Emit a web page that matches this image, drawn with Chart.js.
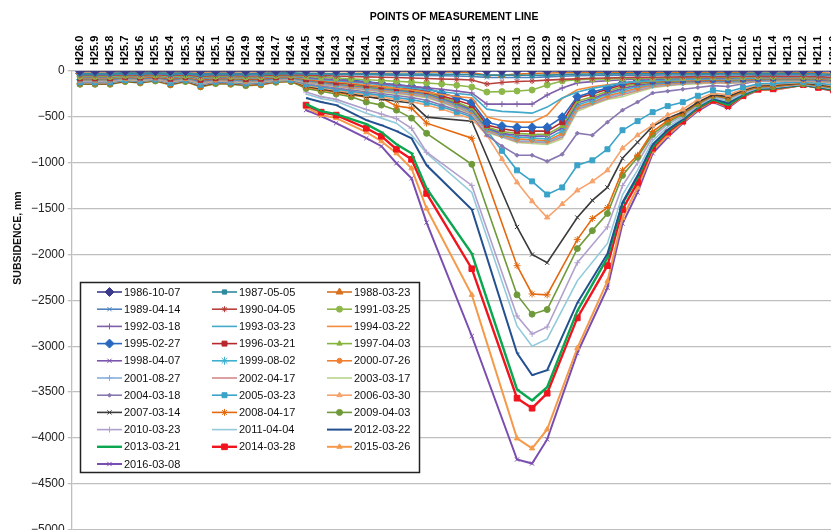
<!DOCTYPE html>
<html>
<head>
<meta charset="utf-8">
<script src="https://cdn.jsdelivr.net/npm/chart.js@4.4.1/dist/chart.umd.min.js"></script>
<style>
  html, body { margin: 0; padding: 0; background: #fff; overflow: hidden; }
  #wrap { position: relative; width: 842px; height: 540px; }
</style>
</head>
<body>
<div id="wrap"><canvas id="subsidenceChart"></canvas></div>
<script>
  const n = null;

  // measurement points along the line (top axis)
  const pointNames = ['H26.0','H25.9','H25.8','H25.7','H25.6','H25.5','H25.4','H25.3','H25.2','H25.1','H25.0',
    'H24.9','H24.8','H24.7','H24.6','H24.5','H24.4','H24.3','H24.2','H24.1','H24.0',
    'H23.9','H23.8','H23.7','H23.6','H23.5','H23.4','H23.3','H23.2','H23.1','H23.0',
    'H22.9','H22.8','H22.7','H22.6','H22.5','H22.4','H22.3','H22.2','H22.1','H22.0',
    'H21.9','H21.8','H21.7','H21.6','H21.5','H21.4','H21.3','H21.2','H21.1','H21.0'];

  const surveyDates = ['1986-10-07','1987-05-05','1988-03-23','1989-04-14','1990-04-05','1991-03-25',
    '1992-03-18','1993-03-23','1994-03-22','1995-02-27','1996-03-21','1997-04-03','1998-04-07',
    '1999-08-02','2000-07-26','2001-08-27','2002-04-17','2003-03-17','2004-03-18','2005-03-23',
    '2006-03-30','2007-03-14','2008-04-17','2009-04-03','2010-03-23','2011-04-04','2012-03-22',
    '2013-03-21','2014-03-28','2015-03-26','2016-03-08'];

  const yTicks = [0, -500, -1000, -1500, -2000, -2500, -3000, -3500, -4000, -4500, -5000];

  // subsidence, mm  (H26.0 ... H24.6 | H24.5 ... H22.5 | H22.4 ... H21.0)
  const s1986 = [0,0,0,0,0,0,0,0,0,0,0,0,0,0,0,
    0,0,0,0,0,0,0,0,0,0,0,0,0,0,0,0,0,0,0,0,0,
    0,0,0,0,0,0,0,0,0,0,0,0,0,0,0];
  const s1987 = [-30,-30,-30,-24,-27,-23,-32,-24,-36,-29,-30,-33,-32,-26,-24,
    -25,-28,-30,-30,-32,-32,-33,-34,-35,-36,-36,-38,-45,-46,-47,-47,-45,-40,-36,-34,-32,
    -30,-30,-30,-30,-30,-30,-28,-30,-28,-26,-26,n,-28,-30,-38];
  const s1988 = [-8,-8,-8,-6,-7,-6,-8,-6,-10,-8,-8,-9,-8,-7,-6,
    -6,-6,-6,-7,-7,-7,-8,-8,-10,-10,-12,-20,-44,-48,-35,-28,-22,-20,-18,-16,-16,
    -15,-15,-15,-15,-15,-15,-14,-15,-14,-12,-12,n,-18,-20,-25];
  const s1989 = [-40,-40,-40,-32,-36,-30,-42,-32,-48,-38,-40,-44,-42,-34,-32,
    -34,-36,-38,-40,-42,-44,-46,-48,-50,-52,-55,-60,-70,-72,-72,-72,-65,-58,-52,-50,-48,
    -46,-45,-45,-44,-44,-43,-42,-44,-42,-40,-40,n,-42,-45,-52];
  const s1990 = [-50,-50,-50,-40,-45,-38,-53,-40,-60,-48,-50,-55,-53,-43,-40,
    -45,-50,-55,-60,-64,-68,-72,-76,-82,-88,-92,-98,-142,-125,-115,-110,-100,-92,-86,-80,-76,
    -72,-70,-68,-66,-64,-62,-60,-62,-58,-56,-56,n,-58,-62,-72];
  const s1991 = [-60,-60,-60,-48,-54,-45,-63,-48,-72,-57,-60,-66,-63,-51,-48,
    -58,-68,-76,-86,-96,-104,-112,-122,-132,-142,-156,-175,-230,-225,-219,-208,-153,-109,-96,-90,-86,
    -82,-80,-76,-74,-72,-70,-66,-68,-64,-62,-60,n,-62,-66,-76];
  const s1992 = [-65,-65,-65,-52,-59,-49,-68,-52,-78,-62,-65,-72,-68,-55,-52,
    -70,-84,-96,-110,-124,-138,-152,-168,-184,-200,-220,-240,-361,-361,-361,-361,-262,-186,-130,-116,-106,
    -96,-90,-86,-82,-80,-76,-74,-76,-72,-68,-66,n,-66,-70,-80];
  const s1993 = [-70,-70,-70,-56,-63,-53,-74,-56,-84,-67,-70,-77,-74,-60,-56,
    -80,-94,-106,-120,-134,-150,-168,-186,-206,-226,-246,-262,-416,-440,-449,-460,-394,-295,-230,-190,-160,
    -130,-116,-106,-100,-96,-90,-86,-88,-82,-76,-72,n,-72,-76,-86];
  const s1994 = [-75,-75,-75,-60,-68,-56,-79,-60,-90,-71,-75,-83,-79,-64,-60,
    -88,-104,-118,-134,-150,-168,-188,-208,-232,-256,-278,-295,-503,-540,-558,-558,-481,-300,-205,-172,-150,
    -132,-120,-110,-104,-100,-94,-90,-92,-86,-80,-76,n,-76,-80,-90];
  const s1995 = [-25,-25,-25,-20,-23,-19,-26,-20,-30,-24,-25,-28,-26,-21,-20,
    -40,-60,-80,-100,-118,-134,-150,-168,-190,-240,-290,-339,-560,-600,-613,-613,-613,-503,-280,-230,-186,
    -131,-110,-100,-94,-90,-86,-82,-84,-78,-72,-68,n,-68,-72,-82];
  const s1996 = [-80,-80,-80,-64,-72,-60,-84,-64,-96,-76,-80,-88,-84,-68,-64,
    -90,-108,-124,-140,-156,-170,-186,-200,-220,-270,-320,-372,-590,-630,-656,-656,-656,-558,-295,-252,-200,
    -150,-125,-112,-106,-100,-96,-92,-95,-88,-82,-78,n,-78,-82,-92];
  const s1997 = [-85,-85,-85,-68,-77,-64,-89,-68,-102,-81,-85,-94,-89,-72,-68,
    -95,-115,-132,-150,-166,-180,-196,-212,-232,-285,-340,-405,-610,-660,-680,-690,-690,-600,-330,-280,-220,
    -170,-140,-122,-114,-108,-102,-98,-100,-94,-88,-84,n,-84,-88,-98];
  const s1998 = [-90,-90,-90,-72,-81,-68,-95,-72,-108,-86,-90,-99,-95,-77,-72,
    -100,-120,-138,-156,-172,-188,-204,-220,-242,-295,-355,-420,-620,-680,-700,-710,-710,-620,-350,-300,-240,
    -190,-155,-132,-122,-114,-108,-104,-106,-100,-94,-90,n,-90,-94,-104];
  const s1999 = [-95,-95,-95,-76,-86,-71,-100,-76,-114,-90,-95,-105,-100,-81,-76,
    -105,-126,-144,-162,-178,-196,-212,-230,-252,-305,-365,-430,-630,-690,-720,-730,-740,-650,-370,-320,-250,
    -210,-170,-142,-130,-120,-114,-110,-112,-106,-100,-96,n,-96,-100,-110];
  const s2000 = [-100,-100,-100,-80,-90,-75,-105,-80,-120,-95,-100,-110,-105,-85,-80,
    -110,-132,-150,-168,-186,-204,-220,-238,-262,-315,-375,-440,-640,-700,-740,-750,-760,-680,-390,-340,-270,
    -230,-185,-152,-138,-128,-120,-116,-118,-112,-106,-100,n,-100,-106,-116];
  const s2001 = [-105,-105,-105,-84,-95,-79,-110,-84,-126,-100,-105,-116,-110,-89,-84,
    -115,-138,-156,-176,-194,-212,-230,-248,-272,-325,-385,-450,-650,-710,-760,-765,-775,-700,-410,-350,-285,
    -245,-200,-162,-146,-134,-126,-120,-124,-118,-110,-104,n,-104,-110,-122];
  const s2002 = [-110,-110,-110,-88,-99,-83,-116,-88,-132,-105,-110,-121,-116,-94,-88,
    -120,-144,-164,-184,-202,-220,-238,-258,-282,-335,-395,-460,-660,-715,-770,-775,-785,-720,-420,-360,-300,
    -260,-215,-172,-154,-140,-132,-126,-130,-122,-114,-108,n,-108,-114,-128];
  const s2003 = [-115,-115,-115,-92,-104,-86,-121,-92,-138,-109,-115,-127,-121,-98,-92,
    -125,-150,-170,-192,-210,-228,-248,-268,-292,-345,-405,-470,-670,-720,-780,-790,-800,-740,-440,-370,-310,
    -280,-230,-182,-162,-148,-138,-132,-136,-128,-15,-112,n,-112,-118,-132];
  const s2004 = [-120,-120,-120,-96,-108,-90,-126,-96,-144,-114,-120,-132,-126,-102,-96,
    -135,-162,-184,-206,-226,-246,-268,-290,-320,-370,-425,-480,-700,-820,-919,-919,-985,-908,-678,-700,-558,
    -427,-339,-241,-220,-200,-180,-160,-170,-140,-110,-108,n,-105,-112,-130];
  const s2005 = [-125,-125,-125,-100,-113,-94,-131,-100,-150,-119,-125,-138,-131,-106,-100,
    -145,-175,-198,-222,-244,-266,-290,-312,-345,-390,-445,-500,-650,-870,-1083,-1203,-1346,-1269,-1028,-974,-853,
    -646,-547,-449,-383,-340,-270,-210,-230,-180,-140,-135,n,-120,-135,-150];
  const s2006 = [-130,-130,-130,-104,-117,-98,-137,-104,-156,-124,-130,-143,-137,-111,-104,
    -155,-185,-210,-236,-260,-284,-310,-334,-370,-415,-470,-520,-700,-960,-1214,-1420,-1597,-1450,-1302,-1203,-1083,
    -842,-700,-591,-480,-420,-310,-240,-260,-200,-150,-145,n,-125,-140,-160];
  const s2007 = [-135,-135,-135,-108,-122,-101,-142,-108,-162,-128,-135,-149,-142,-115,-108,
    -165,-195,-222,-250,-278,-305,-330,-350,-503,n,n,-547,n,n,-1700,-2000,-2090,n,-1597,-1411,-1269,
    -952,-777,-602,-514,-448,-340,-260,-280,-210,-160,-155,n,-130,-150,-170];
  const s2008 = [-140,-140,-140,-112,-126,-105,-147,-112,-168,-133,-140,-154,-147,-119,-112,
    -175,-205,-232,-262,-284,-295,-383,-405,-569,n,n,-733,n,n,-2122,-2430,-2440,n,-1838,-1608,-1488,
    -1083,-919,-660,-540,-460,-350,-265,-290,-220,-170,-165,n,-135,-155,-178];
  const s2009 = [-145,-145,-145,-116,-131,-109,-152,-116,-174,-138,-145,-160,-152,-123,-116,
    -190,-222,-252,-282,-339,-372,-427,-514,-680,n,n,-1017,n,n,-2440,-2650,-2600,n,-1936,-1740,-1553,
    -1138,-940,-690,-560,-470,-360,-270,-300,-225,-175,-170,n,-140,-160,-185];
  const s2010 = [n,n,n,n,n,n,n,n,n,n,n,n,n,n,n,
    -230,-280,-310,n,-420,-470,-520,-624,-886,n,n,-1247,n,n,-2670,-2866,-2790,n,-2090,n,-1700,
    -1250,-1000,-720,-580,-490,-372,-280,-310,-235,-180,-175,n,-145,-165,-190];
  const s2011 = [n,n,n,n,n,n,n,n,n,n,n,n,n,n,n,
    -252,-300,-330,n,-460,-514,-569,-700,-897,n,n,-1324,n,n,-2779,-3000,-2920,n,-2287,n,-1880,
    -1350,-1080,-760,-610,-510,-380,-290,-330,-245,-185,-180,n,-145,-170,-195];
  const s2012 = [n,n,n,n,n,n,n,n,n,n,n,n,n,n,n,
    -295,-339,-372,n,-536,-591,-656,-733,-1028,n,n,-1510,n,n,-3074,-3315,-3260,n,-2527,n,-1991,
    -1433,-1140,-800,-640,-525,-390,-300,-350,-255,-190,-185,n,-148,-175,-200];
  const s2013 = [n,n,n,n,n,n,n,n,n,n,n,n,n,n,n,
    -361,-438,-470,n,-580,-667,-799,-897,-1280,n,n,-1991,n,n,-3470,-3590,-3446,n,-2615,n,-2035,
    -1444,-1160,-820,-650,-535,-400,-310,-370,-265,-195,-190,n,-150,-178,-205];
  const s2014 = [n,n,n,n,n,n,n,n,n,n,n,n,n,n,n,
    -372,-449,-481,n,-624,-711,-853,-963,-1335,n,n,-2155,n,n,-3566,-3675,-3512,n,-2691,n,-2122,
    -1510,-1214,-842,-667,-547,-405,-320,-380,-270,-200,-195,n,-150,-180,-210];
  const s2015 = [n,n,n,n,n,n,n,n,n,n,n,n,n,n,n,
    -394,-481,-514,n,-667,-766,-897,-1061,-1499,n,n,-2440,n,n,-4004,-4113,-3906,n,-3019,n,-2290,
    -1600,-1270,-870,-700,-560,-420,-330,-390,-280,-205,-205,n,-152,-182,-215];
  const s2016 = [n,n,n,n,n,n,n,n,n,n,n,n,n,n,n,
    -427,-492,-569,n,-733,-820,-1006,-1170,-1652,n,n,-2888,n,n,-4234,-4278,-4015,n,-3074,n,-2363,
    -1663,-1324,-897,-722,-569,-437,-339,-405,-284,-208,-208,n,-153,-186,-219];

  const seriesValues = [s1986, s1987, s1988, s1989, s1990, s1991, s1992, s1993, s1994, s1995, s1996,
    s1997, s1998, s1999, s2000, s2001, s2002, s2003, s2004, s2005, s2006, s2007, s2008, s2009,
    s2010, s2011, s2012, s2013, s2014, s2015, s2016];

  // colour, marker, marker radius, line width (excel-like defaults)
  const looks = [
    ['#3B3A8C', 'rectRot', 4.5, 1.6],
    ['#2F8A9E', 'rect', 3, 1.6],
    ['#D8701E', 'triangle', 4, 1.6],
    ['#4F81BD', 'crossRot', 3, 1.6],
    ['#B8403C', 'star', 3, 1.6],
    ['#8DB849', 'circle', 3, 1.6],
    ['#7F5FA8', 'cross', 3, 1.6],
    ['#41A9C9', 'circle', 0, 1.6],
    ['#F38B3C', 'circle', 0, 1.6],
    ['#2868C0', 'rectRot', 4.5, 1.6],
    ['#B5282E', 'rect', 3.5, 1.6],
    ['#86B33A', 'triangle', 3, 1.6],
    ['#7B55AE', 'crossRot', 3, 1.6],
    ['#3FB0CF', 'star', 4, 1.6],
    ['#F08030', 'circle', 2.5, 1.6],
    ['#86AEDC', 'cross', 3, 1.6],
    ['#D48A88', 'circle', 0, 1.6],
    ['#B9D48C', 'circle', 0, 1.6],
    ['#8877B0', 'rectRot', 2, 1.6],
    ['#3AA3C8', 'rect', 3.5, 1.6],
    ['#F7A26A', 'triangle', 3, 1.6],
    ['#3A3A3A', 'crossRot', 3, 1.6],
    ['#E3680E', 'star', 3.5, 1.6],
    ['#6F9A3A', 'circle', 3, 1.6],
    ['#B0A0CC', 'cross', 3, 1.6],
    ['#92CADC', 'circle', 0, 1.6],
    ['#23508F', 'dash', 2.5, 2],
    ['#0AA650', 'dash', 2.5, 2.4],
    ['#F0141E', 'rect', 4, 2.4],
    ['#F59A4A', 'triangle', 3, 2],
    ['#7A4DB0', 'crossRot', 3, 2]
  ];

  const FONT = "'Liberation Sans', Arial, sans-serif";
  Chart.defaults.font.family = FONT;

  const datasets = seriesValues.map((vals, k) => ({
    label: surveyDates[k],
    data: vals.map((v, i) => ({ x: i, y: v })),
    borderColor: looks[k][0],
    backgroundColor: looks[k][0],
    pointBackgroundColor: looks[k][0],
    pointBorderColor: looks[k][0],
    pointStyle: looks[k][1],
    pointRadius: looks[k][2],
    pointBorderWidth: 1,
    borderWidth: looks[k][3],
    spanGaps: true,
    tension: 0
  }));

  // y axis caption, sits higher than the plot centre like in the original
  const sideTitle = {
    id: 'sideTitle',
    afterDraw(chart) {
      const ctx = chart.ctx;
      ctx.save();
      ctx.translate(18, 238);
      ctx.rotate(-Math.PI / 2);
      ctx.font = 'bold 10.5px ' + FONT;
      ctx.fillStyle = '#111';
      ctx.textAlign = 'center';
      ctx.textBaseline = 'middle';
      ctx.fillText('SUBSIDENCE, mm', 0, 0);
      ctx.restore();
    }
  };

  // boxed legend inside the plot, 3 columns
  const boxLegend = {
    id: 'boxLegend',
    afterDraw(chart) {
      const ctx = chart.ctx;
      const colX = [97, 212, 327];
      ctx.save();
      ctx.fillStyle = '#fff';
      ctx.fillRect(80, 282, 340, 191);
      ctx.strokeStyle = '#222';
      ctx.lineWidth = 1.5;
      ctx.strokeRect(80.5, 282.5, 339, 190);
      chart.data.datasets.forEach((ds, k) => {
        const x0 = colX[k % 3];
        const y = 292 + Math.floor(k / 3) * 17.2;
        ctx.strokeStyle = ds.borderColor;
        ctx.lineWidth = ds.borderWidth;
        ctx.beginPath();
        ctx.moveTo(x0, y);
        ctx.lineTo(x0 + 25, y);
        ctx.stroke();
        if (ds.pointRadius > 0 && Chart.helpers && Chart.helpers.drawPoint) {
          ctx.fillStyle = ds.pointBackgroundColor;
          ctx.strokeStyle = ds.pointBorderColor;
          ctx.lineWidth = 1;
          Chart.helpers.drawPoint(ctx, { pointStyle: ds.pointStyle, radius: ds.pointRadius, rotation: 0, borderWidth: 1 }, x0 + 12.5, y);
        }
        ctx.fillStyle = '#111';
        ctx.font = '11px ' + FONT;
        ctx.textAlign = 'left';
        ctx.textBaseline = 'middle';
        ctx.fillText(ds.label, x0 + 27, y + 0.5);
      });
      ctx.restore();
    }
  };

  const chartEl = document.getElementById('subsidenceChart');
  new Chart(chartEl, {
    type: 'line',
    data: { datasets: datasets },
    options: {
      responsive: true,
      maintainAspectRatio: false,
      animation: false,
      layout: { padding: { left: 28, top: 11, right: 0, bottom: 0 } },
      plugins: {
        legend: { display: false },
        tooltip: { enabled: false }
      },
      scales: {
        x: {
          type: 'linear',
          position: 'top',
          min: -0.55,
          max: 50.2,
          grid: { display: false, drawTicks: false },
          border: { display: true, color: '#BFBFBF', width: 1.3 },
          ticks: {
            stepSize: 1,
            includeBounds: false,
            autoSkip: false,
            minRotation: 90,
            maxRotation: 90,
            padding: 6,
            labelOffset: 13.2,   // top + rotated labels are pushed left one line height
            color: '#000',
            font: { size: 11, weight: 'bold' },
            callback: (v) => Number.isInteger(v) ? pointNames[v] : ''
          },
          title: {
            display: true,
            text: 'POINTS OF MEASUREMENT LINE',
            color: '#000',
            font: { size: 10.5, weight: 'bold' },
            padding: { top: 0, bottom: 6 }
          }
        },
        y: {
          min: -5000,
          max: 0,
          afterBuildTicks: (axis) => { axis.ticks = yTicks.map(v => ({ value: v })); },
          grid: { color: '#BFBFBF', lineWidth: 1.3, tickLength: 4 },
          border: { display: true, color: '#BFBFBF', width: 1.3 },
          ticks: {
            padding: 3,
            color: '#222',
            font: { size: 12 },
            callback: (v) => v < 0 ? '\u2212' + Math.abs(v) : String(v)
          }
        }
      }
    },
    plugins: [sideTitle, boxLegend]
  });
</script>
</body>
</html>
